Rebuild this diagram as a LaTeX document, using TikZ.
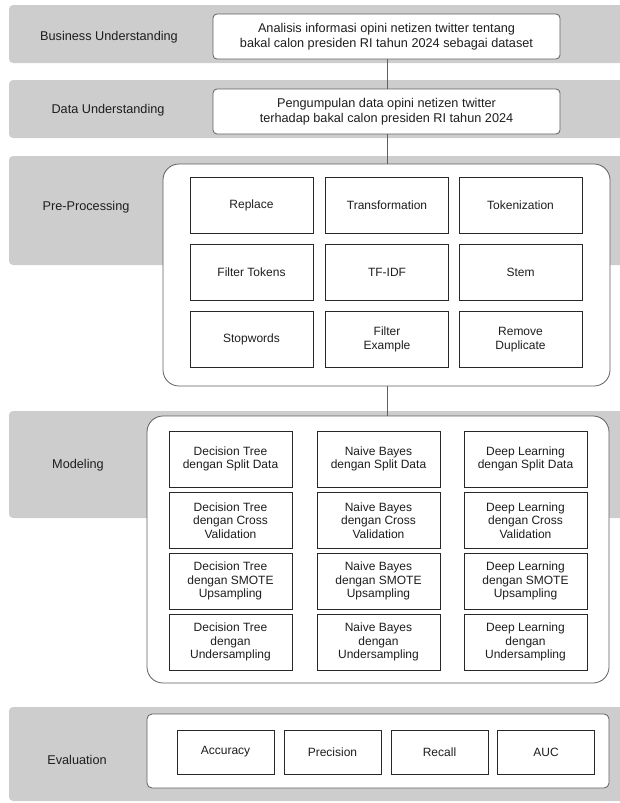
\documentclass[tikz,border=0pt]{standalone}
\usepackage{fontspec}
\setmainfont{Liberation Sans}
\definecolor{bandgray}{RGB}{205,205,205}
\definecolor{boxline}{RGB}{95,95,95}
\definecolor{cellline}{RGB}{40,40,40}
\definecolor{txt}{RGB}{30,30,30}
\begin{document}
\begin{tikzpicture}[x=1pt,y=-1pt,
  band/.style={fill=bandgray, draw=none, rounded corners=4pt},
  bandlabel/.style={text=txt, font=\fontsize{12.7}{14.5}\selectfont, inner sep=0pt},
  bigbox/.style={draw=boxline, fill=white, rounded corners=4pt, line width=0.8pt,
    text=txt, align=center, font=\fontsize{12.7}{14.5}\selectfont, inner sep=0pt},
  groupbox/.style={draw=boxline, fill=white, rounded corners=16pt, line width=0.8pt, inner sep=0pt},
  evalgroup/.style={draw=boxline, fill=white, rounded corners=5pt, line width=0.8pt, inner sep=0pt},
  cell/.style={draw=cellline, fill=white, line width=0.8pt, text=txt, align=center,
    font=\fontsize{12}{13.4}\selectfont, inner sep=0pt, minimum width=123pt, minimum height=56pt},
  ecell/.style={cell, minimum width=97pt, minimum height=44pt},
  conn/.style={draw=boxline, line width=0.8pt}]
\useasboundingbox (0,0) rectangle (620,803);
\clip (0,0) rectangle (620,803);
% bands
\fill[band] (9,5) rectangle (630,63);
\fill[band] (9,80) rectangle (630,138);
\fill[band] (9,156) rectangle (630,265);
\fill[band] (9,411) rectangle (630,518);
\fill[band] (9,707) rectangle (630,801);
% band labels
\node[bandlabel] (lbu) at (109,37) {Business Understanding};
\node[bandlabel] (ldu) at (108,110) {Data Understanding};
\node[bandlabel] (lpp) at (86,207) {Pre-Processing};
\node[bandlabel] (lmo) at (78,465) {Modeling};
\node[bandlabel] (lev) at (77,760) {Evaluation};
% top boxes
\node[bigbox, minimum width=347pt, minimum height=45pt] (bu) at (386.5,36.5)
  {Analisis informasi opini netizen twitter tentang\\bakal calon presiden RI tahun 2024 sebagai dataset};
\node[bigbox, minimum width=347pt, minimum height=45pt] (du) at (386.5,111.5)
  {Pengumpulan data opini netizen twitter\\terhadap bakal calon presiden RI tahun 2024};
% group boxes
\node[groupbox, minimum width=447pt, minimum height=222pt] (pp) at (386.5,275) {};
\node[groupbox, minimum width=462pt, minimum height=267pt] (mo) at (378,549.5) {};
\node[evalgroup, minimum width=462pt, minimum height=74pt] (ev) at (378,751) {};
% connectors
\draw[conn] (bu.south -| 387,0) -- (du.north -| 387,0);
\draw[conn] (du.south -| 387,0) -- (pp.north -| 387,0);
\draw[conn] (pp.south -| 387,0) -- (mo.north -| 387,0);
% pre-processing cells
\node[cell] (p11) at (251.5,205) {Replace};
\node[cell] (p12) at (387,205) {Transformation};
\node[cell] (p13) at (520.5,205) {Tokenization};
\node[cell] (p21) at (251.5,272.5) {Filter Tokens};
\node[cell] (p22) at (387,272.5) {TF-IDF};
\node[cell] (p23) at (520.5,272.5) {Stem};
\node[cell] (p31) at (251.5,339.5) {Stopwords};
\node[cell] (p32) at (387,339.5) {Filter\\Example};
\node[cell] (p33) at (520.5,339.5) {Remove\\Duplicate};
% modeling cells
\node[cell] (m11) at (230.5,459) {Decision Tree\\dengan Split Data};
\node[cell] (m12) at (378.5,459) {Naive Bayes\\dengan Split Data};
\node[cell] (m13) at (525.5,459) {Deep Learning\\dengan Split Data};
\node[cell] (m21) at (230.5,520.5) {Decision Tree\\dengan Cross\\Validation};
\node[cell] (m22) at (378.5,520.5) {Naive Bayes\\dengan Cross\\Validation};
\node[cell] (m23) at (525.5,520.5) {Deep Learning\\dengan Cross\\Validation};
\node[cell] (m31) at (230.5,581) {Decision Tree\\dengan SMOTE\\Upsampling};
\node[cell] (m32) at (378.5,581) {Naive Bayes\\dengan SMOTE\\Upsampling};
\node[cell] (m33) at (525.5,581) {Deep Learning\\dengan SMOTE\\Upsampling};
\node[cell] (m41) at (230.5,642) {Decision Tree\\dengan\\Undersampling};
\node[cell] (m42) at (378.5,642) {Naive Bayes\\dengan\\Undersampling};
\node[cell] (m43) at (525.5,642) {Deep Learning\\dengan\\Undersampling};
% evaluation cells
\node[ecell] (e1) at (225.5,752) {Accuracy};
\node[ecell] (e2) at (332.5,752) {Precision};
\node[ecell] (e3) at (439.5,752) {Recall};
\node[ecell] (e4) at (546,752) {AUC};
\end{tikzpicture}
\end{document}
